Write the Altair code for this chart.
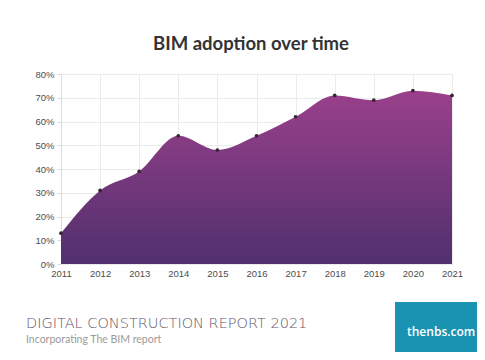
import altair as alt
import pandas as pd

years = [2011, 2012, 2013, 2014, 2015, 2016, 2017, 2018, 2019, 2020, 2021]
adoption = [13, 31, 39, 54, 48, 54, 62, 71, 69, 73, 71]
y_ticks = [0, 10, 20, 30, 40, 50, 60, 70, 80]

title_text = "BIM adoption over time"
footer_main = "DIGITAL CONSTRUCTION REPORT 2021"
footer_sub = "Incorporating The BIM report"
brand = "thenbs.com"

df = pd.DataFrame({"year": years, "adoption": adoption})

W, H = 391, 190

x_scale = alt.Scale(domain=[2011, 2021], nice=False, zero=False)
y_scale = alt.Scale(domain=[0, 80], nice=False)

x_axis = alt.Axis(values=years, format="d", title=None, labelFontSize=9.5,
                  labelColor="#4d4d4d", labelFont="Liberation Sans",
                  labelOverlap=False, labelFlush=False,
                  gridColor="#ebebeb", domain=False, ticks=False, labelPadding=4)
y_axis = alt.Axis(values=y_ticks, labelExpr="datum.value + '%'", title=None,
                  labelFontSize=9.5, labelColor="#4d4d4d", labelFont="Liberation Sans",
                  labelOverlap=False, labelFlush=False,
                  gridColor="#ebebeb", domainColor="#dcdcdc", tickColor="#dcdcdc",
                  tickSize=4, labelPadding=3)

x_enc = alt.X("year:Q", scale=x_scale, axis=x_axis)
y_enc = alt.Y("adoption:Q", scale=y_scale, axis=y_axis)

base = alt.Chart(df)

area = base.mark_area(
    interpolate="monotone",
    color=alt.Gradient(
        gradient="linear",
        stops=[alt.GradientStop(color="#9a408b", offset=0),
               alt.GradientStop(color="#50306d", offset=1)],
        x1=0, x2=0, y1=0, y2=1,
    ),
).encode(x=x_enc, y=y_enc)

points = base.mark_circle(size=14, color="#3a2535", opacity=1).encode(x=x_enc, y=y_enc)

def txt(text, x, y, size, color, weight="normal", font="Lato", align="left"):
    return alt.Chart(pd.DataFrame({"t": [text]})).mark_text(
        align=align, baseline="middle", fontSize=size, color=color,
        fontWeight=weight, font=font,
    ).encode(x=alt.value(x), y=alt.value(y), text="t:N")

title = txt(title_text, 190, -30, 18.5, "#333333", weight="bold", align="center")
f1 = txt(footer_main, -35, 250, 14.5, "#62566a", weight=200, font="DejaVu Sans")
f2 = txt(footer_sub, -35, 266, 10.5, "#9a9a9a")

box = alt.Chart(pd.DataFrame({"a": [0]})).mark_rect(color="#1a93b3").encode(
    x=alt.value(334), x2=alt.value(440), y=alt.value(228), y2=alt.value(300))
brand_t = txt(brand, 346, 258, 12, "#ffffff", weight=600, font="Open Sans")

chart = alt.layer(area, points, title, f1, f2, box, brand_t).properties(
    width=W, height=H,
    autosize=alt.AutoSizeParams(type="none"),
    padding={"left": 53, "top": 66, "right": 25, "bottom": 88},
).configure_view(stroke=None).configure(background="white")

chart.save("out.html", embed_options={"renderer": "svg", "actions": False})
